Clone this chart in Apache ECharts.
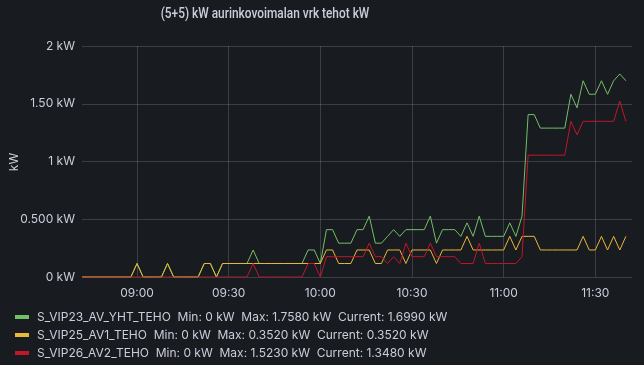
<!DOCTYPE html>
<html>
<head>
<meta charset="utf-8">
<script src="https://cdn.jsdelivr.net/npm/echarts@6/dist/echarts.min.js"></script>
<style>
html,body{margin:0;padding:0;background:#181b1f;}
#c{width:644px;height:365px;}
</style>
</head>
<body>
<div id="c"></div>
<script>
// Sampling: every 2 minutes from 08:42 to 11:40 (x in minutes since midnight)
var startMinuteOfDay = 8 * 60 + 42, stepMinutes = 2;
var seriesNames = ['S_VIP23_AV_YHT_TEHO', 'S_VIP25_AV1_TEHO', 'S_VIP26_AV2_TEHO'];
var seriesColors = ['#73BF69', '#EAB839', '#C4162A'];
var chartTitle = '(5+5) kW aurinkovoimalan vrk tehot kW';
var yAxisName = 'kW';

var yhtValues = [
  0,0,0,0,0,0,0,0,0,0.117,
  0,0,0,0,0.117,0,0,0,0,0,
  0.117,0.117,0,0.117,0.117,0.117,0.117,0.117,0.234,0.117,
  0.117,0.117,0.117,0.117,0.117,0.117,0.117,0.234,0.234,0.117,
  0.410,0.410,0.293,0.293,0.293,0.410,0.410,0.527,0.293,0.293,
  0.352,0.410,0.352,0.410,0.410,0.410,0.410,0.527,0.293,0.410,
  0.410,0.410,0.352,0.469,0.352,0.527,0.352,0.352,0.352,0.352,
  0.469,0.352,0.527,1.406,1.406,1.289,1.289,1.289,1.289,1.289,
  1.582,1.465,1.699,1.582,1.582,1.699,1.582,1.699,1.758,1.699
];
var av1Values = [
  0,0,0,0,0,0,0,0,0,0.117,
  0,0,0,0,0.117,0,0,0,0,0,
  0.117,0.117,0,0.117,0.117,0.117,0.117,0.117,0.117,0.117,
  0.117,0.117,0.117,0.117,0.117,0.117,0.117,0.117,0.117,0.117,
  0.234,0.234,0.117,0.117,0.117,0.234,0.234,0.234,0.117,0.117,
  0.234,0.234,0.234,0.117,0.234,0.234,0.234,0.234,0.117,0.234,
  0.234,0.234,0.234,0.352,0.234,0.234,0.234,0.234,0.234,0.234,
  0.352,0.234,0.352,0.352,0.352,0.234,0.234,0.234,0.234,0.234,
  0.234,0.234,0.352,0.234,0.234,0.352,0.234,0.352,0.234,0.352
];
var av2Values = [
  0,0,0,0,0,0,0,0,0,0,
  0,0,0,0,0,0,0,0,0,0,
  0,0,0,0,0,0,0,0,0.117,0,
  0,0,0,0,0,0,0,0.117,0.117,0,
  0.176,0.176,0.176,0.176,0.176,0.176,0.176,0.293,0.176,0.176,
  0.117,0.176,0.117,0.293,0.176,0.176,0.176,0.293,0.176,0.176,
  0.176,0.176,0.117,0.117,0.117,0.293,0.117,0.117,0.117,0.117,
  0.117,0.117,0.176,1.055,1.055,1.055,1.055,1.055,1.055,1.055,
  1.348,1.231,1.348,1.348,1.348,1.348,1.348,1.348,1.523,1.348
];
var xTickLabels = ['09:00', '09:30', '10:00', '10:30', '11:00', '11:30'];
var yTickLabels = {0: '0 kW', 0.5: '0.500 kW', 1: '1 kW', 1.5: '1.50 kW', 2: '2 kW'};

var allValues = [yhtValues, av1Values, av2Values];
function toMin(s) { var p = s.split(':'); return (+p[0]) * 60 + (+p[1]); }
function pad(n) { return (n < 10 ? '0' : '') + n; }
var xMin = toMin('08:42');
var xMax = toMin('11:42');
var xTicks = xTickLabels.map(toMin);

function pairs(vals) {
  return vals.map(function (v, i) { return [startMinuteOfDay + i * stepMinutes, v]; });
}
function fmt4(v) { return v.toFixed(4) + ' kW'; }
function fmtMin(v) { return v === 0 ? '0 kW' : fmt4(v); }

var stats = {};
seriesNames.forEach(function (n, k) {
  var vals = allValues[k];
  stats[n] = 'Min: ' + fmtMin(Math.min.apply(null, vals)) +
    '  Max: ' + fmt4(Math.max.apply(null, vals)) +
    '  Current: ' + fmt4(vals[vals.length - 1]);
});

var FONT = 'Inter, "Noto Sans", sans-serif';
var chart = echarts.init(document.getElementById('c'), null, {renderer: 'canvas'});
chart.setOption({
  backgroundColor: '#181b1f',
  animation: false,
  graphic: [{
    type: 'text', x: 265, y: 14, scaleX: 0.82,
    style: {
      text: chartTitle, fill: '#ccccdc', align: 'center', verticalAlign: 'middle',
      fontSize: 14.5, fontFamily: 'Roboto, sans-serif', fontWeight: 500
    }
  }, {
    type: 'text', x: 14, y: 162, rotation: Math.PI / 2,
    style: {
      text: yAxisName, fill: '#ccccdc', align: 'center', verticalAlign: 'middle',
      fontSize: 12, fontFamily: FONT
    }
  }],
  grid: {left: 82, right: 12, top: 46, bottom: 88, containLabel: false, outerBoundsMode: 'none'},
  legend: {
    orient: 'vertical', left: 15, top: 309, height: 56, padding: 0,
    itemWidth: 14, itemHeight: 4, itemGap: 2,
    icon: 'rect',
    textStyle: {color: '#ccccdc', fontSize: 12, lineHeight: 16, fontFamily: FONT, padding: [0, 0, 0, 3]},
    formatter: function (name) { return name + '  ' + stats[name]; },
    data: seriesNames
  },
  xAxis: {
    type: 'value', min: xMin, max: xMax,
    axisLine: {show: false},
    axisTick: {show: false, customValues: xTicks},
    axisLabel: {color: '#ccccdc', fontSize: 12, fontFamily: FONT, margin: 10,
      customValues: xTicks,
      formatter: function (v) { return pad(Math.floor(v / 60)) + ':' + pad(v % 60); }},
    splitLine: {show: true, lineStyle: {color: 'rgba(204,204,220,0.2)', width: 1}}
  },
  yAxis: {
    type: 'value', min: 0, max: 2, interval: 0.5,
    axisLine: {show: false}, axisTick: {show: false},
    axisLabel: {color: '#ccccdc', fontSize: 12, fontFamily: FONT, margin: 7,
      formatter: function (v) { return yTickLabels[v] !== undefined ? yTickLabels[v] : v + ' kW'; }},
    splitLine: {show: true, lineStyle: {color: 'rgba(204,204,220,0.2)', width: 1}}
  },
  series: seriesNames.map(function (n, k) {
    return {
      name: n, type: 'line', data: pairs(allValues[k]),
      showSymbol: false, symbol: 'none',
      itemStyle: {color: seriesColors[k]},
      lineStyle: {color: seriesColors[k], width: 1}
    };
  })
});
</script>
</body>
</html>
